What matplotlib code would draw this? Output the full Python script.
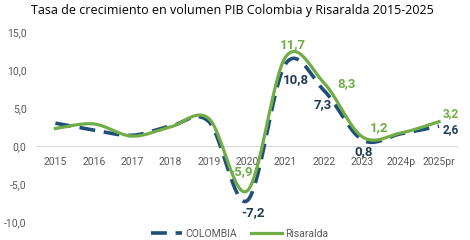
import numpy as np
import matplotlib
matplotlib.use("Agg")
import matplotlib.pyplot as plt

years = ["2015", "2016", "2017", "2018", "2019", "2020", "2021", "2022", "2023", "2024p", "2025pr"]
colombia = [3.0, 2.1, 1.4, 2.6, 3.2, -7.2, 10.8, 7.3, 0.8, 1.6, 2.6]
risaralda = [2.3, 2.9, 1.3, 2.5, 3.6, -5.9, 11.7, 8.3, 1.2, 1.7, 3.2]

# labelled points: index -> (text offset x, text offset y)
col_labels = {5: (0.16, -1.6), 6: (0.28, -2.1), 7: (-0.04, -1.9), 8: (0.04, -1.5), 10: (0.31, -0.5)}
ris_labels = {5: (-0.16, 2.5), 6: (0.2, 1.6), 7: (0.6, -0.1), 8: (0.43, 1.2), 10: (0.31, 1.0)}

C_COL = "#1F4E79"
C_COL_TXT = "#1F3A56"
C_RIS = "#70AD47"

plt.rcParams["font.family"] = ["Roboto", "DejaVu Sans"]


def smooth(y, n=30):
    # Excel-like smoothed line (Catmull-Rom as cubic Bezier)
    y = np.asarray(y, float)
    x = np.arange(len(y), dtype=float)
    P = np.column_stack([x, y])
    out = []
    for i in range(len(P) - 1):
        p0 = P[i - 1] if i > 0 else P[i]
        p1, p2 = P[i], P[i + 1]
        p3 = P[i + 2] if i + 2 < len(P) else P[i + 1]
        c1 = p1 + (p2 - p0) / 6.0
        c2 = p2 - (p3 - p1) / 6.0
        t = np.linspace(0, 1, n)[:, None]
        seg = ((1 - t) ** 3) * p1 + 3 * ((1 - t) ** 2) * t * c1 + 3 * (1 - t) * t ** 2 * c2 + t ** 3 * p2
        out.append(seg if i == 0 else seg[1:])
    s = np.vstack(out)
    return s[:, 0], s[:, 1]


def fmt(v):
    return f"{v:.1f}".replace(".", ",")


fig = plt.figure(figsize=(4.7, 2.4), dpi=100)
ax = fig.add_axes([0.077, 0.075, 0.898, 0.792])

xc, yc = smooth(colombia)
xr, yr = smooth(risaralda)
ax.plot(xc, yc, color=C_COL, lw=2.6, dashes=(4.4, 2.4), solid_capstyle="butt", zorder=3, label="COLOMBIA")
ax.plot(xr, yr, color=C_RIS, lw=2.3, zorder=4, label="Risaralda")

for i, (dx, dy) in col_labels.items():
    ax.text(i + dx, colombia[i] + dy, fmt(colombia[i]), color=C_COL_TXT,
            fontsize=8.5 if i == 10 else 9.5,
            fontweight="bold", ha="center", va="center", zorder=5)
for i, (dx, dy) in ris_labels.items():
    ax.text(i + dx, risaralda[i] + dy, fmt(risaralda[i]), color=C_RIS,
            fontsize=8.5 if i == 10 else 9.5,
            fontweight="bold", ha="center", va="center", zorder=2 if i == 5 else 5)

ax.axhline(0, color="#D9D9D9", lw=0.8, zorder=1)
for i, lab in enumerate(years):
    ax.text(i, -2.1, lab, color="#595959", fontsize=7.5, ha="center", va="center")

ax.set_xlim(-0.5, len(years) - 0.5)
ax.set_ylim(-10, 15)
ax.set_yticks([-10, -5, 0, 5, 10, 15])
ax.set_yticklabels([fmt(v) for v in [-10, -5, 0, 5, 10, 15]], color="#595959", fontsize=7.5)
ax.set_xticks([])
ax.tick_params(axis="y", length=0, pad=7)
for sp in ax.spines.values():
    sp.set_visible(False)

fig.text(0.494, 0.958, "Tasa de crecimiento en volumen PIB Colombia y Risaralda 2015-2025",
         ha="center", va="center", fontsize=9, color="#000000", family=["Open Sans", "DejaVu Sans"])

leg = fig.legend(loc="center", bbox_to_anchor=(0.51, 0.027), ncol=2, frameon=False,
                 fontsize=7.5, handlelength=3.0, columnspacing=1.4, handletextpad=0.25,
                 borderpad=0)
for t in leg.get_texts():
    t.set_color("#595959")

fig.savefig("out.png", dpi=100)
